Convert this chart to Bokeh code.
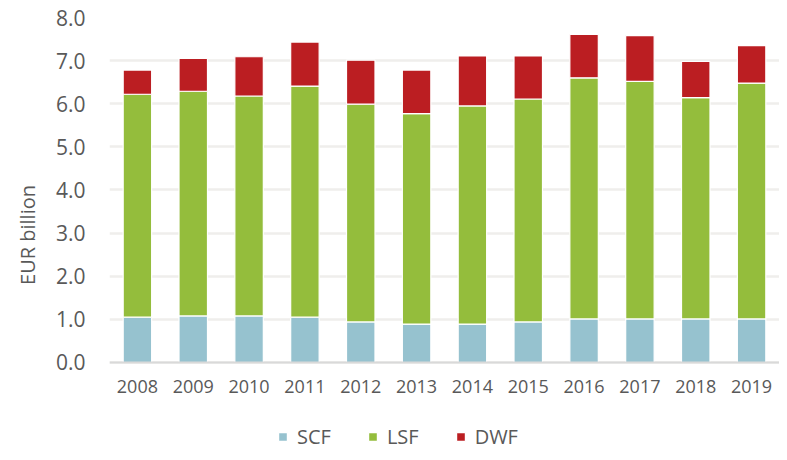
from bokeh.plotting import figure
from bokeh.models import Range1d, NumeralTickFormatter, Legend, LegendItem, FixedTicker
from bokeh.embed import file_html
from bokeh.resources import INLINE

years = ["2008", "2009", "2010", "2011", "2012", "2013", "2014", "2015", "2016", "2017", "2018", "2019"]
scf = [1.05, 1.08, 1.08, 1.05, 0.94, 0.89, 0.89, 0.94, 1.01, 1.01, 1.01, 1.01]
lsf = [5.17, 5.21, 5.10, 5.36, 5.05, 4.88, 5.06, 5.17, 5.59, 5.51, 5.13, 5.47]
dwf = [0.56, 0.76, 0.91, 1.02, 1.02, 1.01, 1.16, 1.00, 1.01, 1.06, 0.84, 0.87]
series = ["SCF", "LSF", "DWF"]
colors = ["#96C2CF", "#94BD3C", "#BB1E22"]
y_ticks = [0, 1, 2, 3, 4, 5, 6, 7, 8]
y_label = "EUR billion"

FONT = "Open Sans"
TXT = "#595959"

# frame extends below zero to leave room for the year labels and the legend
p = figure(x_range=years, y_range=Range1d(-2.087, 8), width=779, height=452,
           output_backend="svg", toolbar_location=None,
           min_border_left=109, min_border_top=17, min_border_right=0,
           min_border_bottom=0)

data = {"years": years, "SCF": scf, "LSF": lsf, "DWF": dwf}
rs = p.vbar_stack(series, x="years", width=0.51, color=colors, source=data,
                  line_color="white", line_width=1.2)

p.outline_line_color = None
p.background_fill_color = "white"
p.border_fill_color = "white"

p.xgrid.grid_line_color = None
p.ygrid.grid_line_color = "#EFEEEC"
p.ygrid.grid_line_width = 2.5
p.ygrid.ticker = FixedTicker(ticks=y_ticks)

p.yaxis.ticker = FixedTicker(ticks=y_ticks)
p.yaxis.formatter = NumeralTickFormatter(format="0.0")
p.yaxis.axis_line_color = None
p.yaxis.major_tick_line_color = None
p.yaxis.minor_tick_line_color = None
p.yaxis.major_tick_out = 0
p.yaxis.major_label_text_font = FONT
p.yaxis.major_label_text_font_size = "21px"
p.yaxis.major_label_text_color = TXT
p.yaxis.major_label_standoff = 24
p.yaxis.axis_label = y_label
p.yaxis.axis_label_text_font = FONT
p.yaxis.axis_label_text_font_size = "20px"
p.yaxis.axis_label_text_font_style = "normal"
p.yaxis.axis_label_text_color = TXT
p.yaxis.axis_label_standoff = 12

p.xaxis.fixed_location = 0
p.xaxis.axis_line_color = "#D9D9D9"
p.xaxis.axis_line_width = 2
p.xaxis.major_tick_line_color = None
p.xaxis.minor_tick_line_color = None
p.xaxis.major_tick_out = 0
p.xaxis.major_label_text_font = FONT
p.xaxis.major_label_text_font_size = "18px"
p.xaxis.major_label_text_color = TXT
p.xaxis.major_label_standoff = 18

items = [LegendItem(label=s, renderers=[r]) for s, r in zip(series, rs)]
legend = Legend(items=items, orientation="horizontal", location=(168, 2),
                glyph_width=11, glyph_height=11, label_standoff=9, spacing=36,
                padding=0, margin=0, border_line_color=None,
                background_fill_alpha=0,
                label_text_font=FONT, label_text_font_size="20px",
                label_text_color=TXT, label_height=20)
p.add_layout(legend, "center")

open("out.html", "w").write(file_html(p, INLINE))
